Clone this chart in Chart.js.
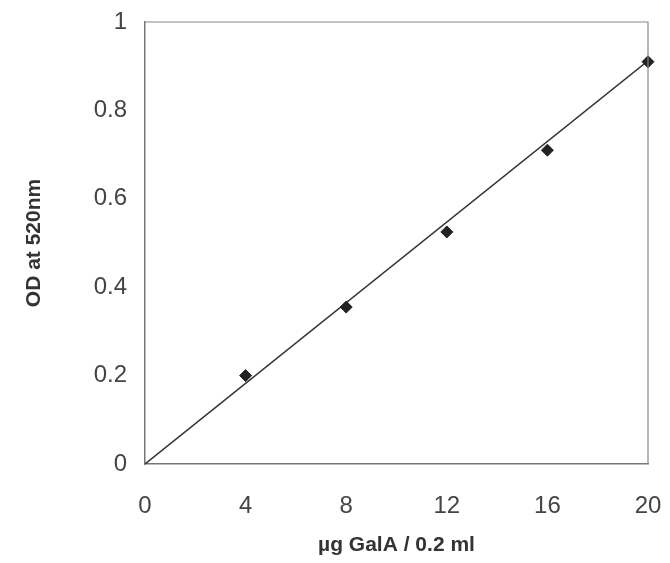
<!DOCTYPE html>
<html lang="en">
<head>
  <meta charset="UTF-8">
  <title>GalA standard curve</title>
  <script src="https://cdn.jsdelivr.net/npm/chart.js"></script>
  <style>
    body {
      margin: 0;
      padding: 0;
      background: #fff;
    }

    #chart-container {
      width: 670px;
      height: 563px;
    }
  </style>
</head>
<body>

  <div id="chart-container">
    <canvas id="stdCurve"></canvas>
  </div>

  <script>
    // µg GalA per 0.2 ml and the measured OD at 520nm
    const amounts = [4, 8, 12, 16, 20];
    const odValues = [0.2, 0.355, 0.525, 0.71, 0.91];

    // linear trendline, start and end
    const trendX = [0, 20];
    const trendY = [0, 0.912];

    const xTicks = [0, 4, 8, 12, 16, 20];
    const yTicks = [0, 0.2, 0.4, 0.6, 0.8, 1];

    const tickFont = { family: 'Liberation Sans, Arial, sans-serif', size: 24 };
    const titleFont = { family: 'Liberation Sans, Arial, sans-serif', size: 21, weight: 'bold' };

    new Chart(document.getElementById('stdCurve'), {
      type: 'scatter',
      data: {
        datasets: [
          {
            label: 'OD',
            data: amounts.map((x, i) => ({ x: x, y: odValues[i] })),
            pointStyle: 'rectRot',
            pointRadius: 6,
            backgroundColor: '#222',
            borderColor: '#222',
            clip: false,
            order: 1
          },
          {
            label: 'Linear',
            type: 'line',
            data: trendX.map((x, i) => ({ x: x, y: trendY[i] })),
            borderColor: '#333',
            borderWidth: 1.5,
            pointRadius: 0,
            order: 2
          }
        ]
      },
      options: {
        responsive: true,
        maintainAspectRatio: false,
        animation: false,
        layout: { padding: { top: 22, right: 0, left: 0, bottom: 0 } },
        plugins: {
          legend: { display: false },
          tooltip: { enabled: false }
        },
        scales: {
          x: {
            type: 'linear',
            min: 0,
            max: 20,
            afterBuildTicks: s => { s.ticks = xTicks.map(v => ({ value: v })); },
            afterFit: s => { s.height = 99; s.paddingLeft = 0; s.paddingRight = 22; },
            border: { display: true, color: '#777', width: 1.5 },
            grid: { display: false, drawTicks: false },
            ticks: { font: tickFont, color: '#444', padding: 28, callback: v => String(v) },
            title: {
              display: true,
              text: 'µg GalA / 0.2 ml',
              font: titleFont,
              color: '#333',
              padding: { top: 0, bottom: 5 }
            }
          },
          y: {
            min: 0,
            max: 1,
            afterBuildTicks: s => { s.ticks = yTicks.map(v => ({ value: v })); },
            afterFit: s => { s.width = 145; s.paddingTop = 0; s.paddingBottom = 0; },
            border: { display: true, color: '#777', width: 1.5 },
            grid: { display: false, drawTicks: false },
            ticks: { font: tickFont, color: '#444', padding: 18, callback: v => String(v) },
            title: {
              display: true,
              text: 'OD at 520nm',
              font: titleFont,
              color: '#333',
              padding: { top: 22, bottom: 0 }
            }
          }
        }
      },
      plugins: [{
        // closes the plot box on the top and right sides
        id: 'frame',
        afterDraw(chart) {
          const { ctx, chartArea: a } = chart;
          ctx.save();
          ctx.strokeStyle = '#888';
          ctx.lineWidth = 1.2;
          ctx.beginPath();
          ctx.moveTo(a.left, a.top);
          ctx.lineTo(a.right, a.top);
          ctx.lineTo(a.right, a.bottom);
          ctx.stroke();
          ctx.restore();
        }
      }]
    });
  </script>

</body>
</html>
